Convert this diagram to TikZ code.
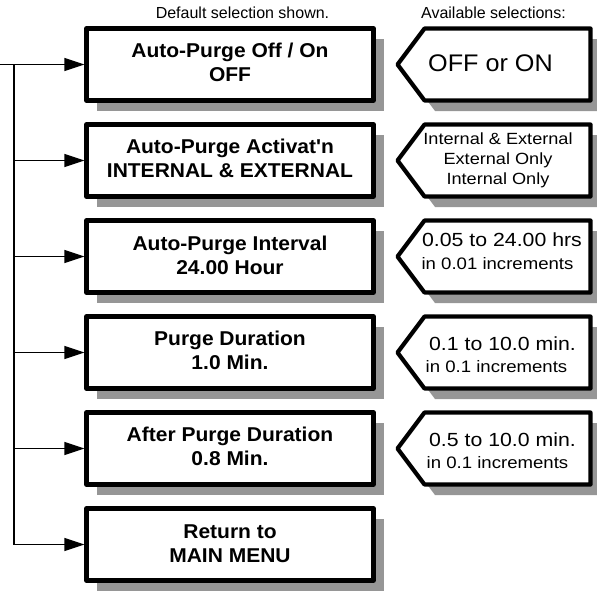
\documentclass[tikz,border=0pt]{standalone}
\usepackage{fontspec}
\setmainfont{Liberation Sans}
\newfontfamily\boxfont[FakeStretch=1.05,Ligatures=TeXOff]{Liberation Sans}
\newfontfamily\widefont[FakeStretch=1.12]{Liberation Sans}
\newfontfamily\offfont[FakeStretch=1.05]{Liberation Sans}
\usetikzlibrary{arrows.meta,shadows}
\definecolor{shadegray}{RGB}{150,150,150}
\begin{document}
\begin{tikzpicture}[x=1pt,y=-1pt,
  menubox/.style={draw, line width=4.2pt, line join=round, fill=white,
    minimum width=287pt, minimum height=72pt, inner sep=0pt,
    drop shadow={shadow xshift=10.5pt, shadow yshift=-10.5pt, fill=shadegray, opacity=1}},
  boxtext/.style={anchor=base, inner sep=0pt, font=\boxfont\bfseries\fontsize{20}{24}\selectfont},
  headtext/.style={anchor=base, inner sep=0pt, font=\fontsize{16}{19}\selectfont},
  bigsel/.style={anchor=base, inner sep=0pt, font=\offfont\fontsize{24}{28}\selectfont},
  selone/.style={anchor=base, inner sep=0pt, font=\widefont\fontsize{19}{22}\selectfont},
  seltwo/.style={anchor=base, inner sep=0pt, font=\widefont\fontsize{16.6}{20}\selectfont},
  selmid/.style={anchor=base, inner sep=0pt, font=\widefont\fontsize{16.2}{20}\selectfont},
  pent/.style={draw, line width=4.2pt, line join=round, fill=white},
  conn/.style={line width=1.2pt},
  arr/.style={conn, -{Triangle[length=20pt,width=13pt]}}]
\useasboundingbox (0,0) rectangle (597,590);

% headers
\node[headtext] (hdef) at (242.5,18) {Default selection shown.};
\node[headtext] (havail) at (493.5,18) {Available selections:};

% menu boxes
\node[menubox] (b1) at (230,64.5) {};
\node[menubox] (b2) at (230,160.5) {};
\node[menubox] (b3) at (230,256.5) {};
\node[menubox] (b4) at (230,352.5) {};
\node[menubox] (b5) at (230,448.5) {};
\node[menubox] (b6) at (230,544.5) {};

\node[boxtext] (t1a) at (230,57.5) {Auto-Purge Off / On};
\node[boxtext] (t1b) at (230,81.5) {OFF};
\node[boxtext] (t2a) at (230,153.5) {Auto-Purge Activat'n};
\node[boxtext] (t2b) at (230,177.5) {INTERNAL \& EXTERNAL};
\node[boxtext] (t3a) at (230,250.5) {Auto-Purge Interval};
\node[boxtext] (t3b) at (230,274.5) {24.00 Hour};
\node[boxtext] (t4a) at (230,345.5) {Purge Duration};
\node[boxtext] (t4b) at (230,369) {1.0 Min.};
\node[boxtext] (t5a) at (230,441.5) {After Purge Duration};
\node[boxtext] (t5b) at (230,465.5) {0.8 Min.};
\node[boxtext] (t6a) at (230,538) {Return to};
\node[boxtext] (t6b) at (230,562) {MAIN MENU};

% selection pentagons
\foreach \cy in {64.5,160.5,256.5,352.5,448.5}{
  \fill[shadegray] (435,\cy-25.5) -- (601,\cy-25.5) -- (601,\cy+46.5) -- (435,\cy+46.5) -- (408,\cy+10.5) -- cycle;
  \draw[pent] (424.5,\cy-36) -- (590.5,\cy-36) -- (590.5,\cy+36) -- (424.5,\cy+36) -- (397.5,\cy) -- cycle;
}

\node[bigsel] (s1) at (490.5,71) {OFF or ON};
\node[selmid] (s2a) at (498,144) {Internal \& External};
\node[selmid] (s2b) at (498,164) {External Only};
\node[selmid] (s2c) at (498,184) {Internal Only};
\node[selone] (s3a) at (502,246) {0.05 to 24.00 hrs};
\node[seltwo] (s3b) at (497.5,269) {in 0.01 increments};
\node[selone] (s4a) at (502.5,350) {0.1 to 10.0 min.};
\node[seltwo] (s4b) at (496.5,372) {in 0.1 increments};
\node[selone] (s5a) at (502.5,446) {0.5 to 10.0 min.};
\node[seltwo] (s5b) at (497.5,468) {in 0.1 increments};

% connectors
\coordinate (start) at (0,64.5);
\coordinate (j1) at (14,64.5);
\coordinate (j2) at (14,160.5);
\coordinate (j3) at (14,256.5);
\coordinate (j4) at (14,352.5);
\coordinate (j5) at (14,448.5);
\coordinate (j6) at (14,544.5);
\draw[arr] (start) -- (b1.west);
\draw[conn] (j1) -- (j6);
\draw[arr] (j2) -- (b2.west);
\draw[arr] (j3) -- (b3.west);
\draw[arr] (j4) -- (b4.west);
\draw[arr] (j5) -- (b5.west);
\draw[arr] (j6) -- (b6.west);
\end{tikzpicture}
\end{document}
